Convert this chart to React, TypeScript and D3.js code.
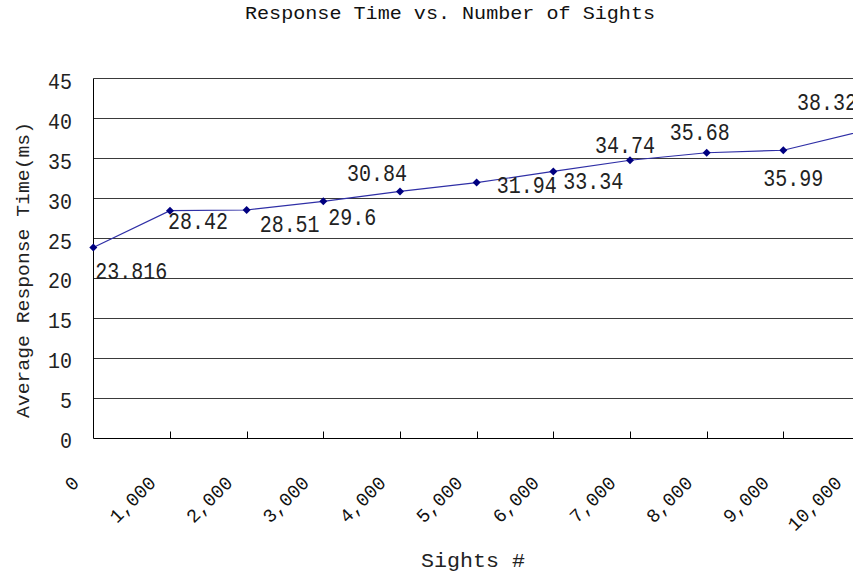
import React from "react";
import * as d3 from "d3";

const sights = [0, 1000, 2000, 3000, 4000, 5000, 6000, 7000, 8000, 9000, 10000];
const responseTimes = [23.816, 28.42, 28.51, 29.6, 30.84, 31.94, 33.34, 34.74, 35.68, 35.99, 38.32];
const valueLabels = ["23.816", "28.42", "28.51", "29.6", "30.84", "31.94", "33.34", "34.74", "35.68", "35.99", "38.32"];
const yTicks = [0, 5, 10, 15, 20, 25, 30, 35, 40, 45];
const xTickLabels = ["0", "1,000", "2,000", "3,000", "4,000", "5,000", "6,000", "7,000", "8,000", "9,000", "10,000"];
const title = "Response Time vs. Number of Sights";
const xTitle = "Sights #";
const yTitle = "Average Response Time(ms)";

// label placement offsets relative to each point (layout, not data)
const labelOffsets: [number, number][] = [
  [2, 32], [-2, 18], [13, 22], [5, 24], [-53, -10], [20, 10],
  [10, 18], [-35, -7], [-37, -13], [-20, 36], [-63, -22],
];

const W = 853;
const H = 578;
const FONT = "'Liberation Mono', 'DejaVu Sans Mono', monospace";

export default function App() {
  const x = d3.scaleLinear().domain([0, 10000]).range([93.3, 860]);
  const y = d3.scaleLinear().domain([0, 45]).range([437.7, 78.3]);
  const snap = (v: number) => Math.round(v) + 0.5;

  const pts = sights.map((s, i) => [x(s), y(responseTimes[i])] as [number, number]);
  const line = d3.line<[number, number]>().x((d) => d[0]).y((d) => d[1]);
  const x0 = snap(x(0));

  return (
    <svg width={W} height={H} style={{ position: "absolute", left: 0, top: 0, background: "#fff" }}>
      <text x={450} y={19} fontFamily={FONT} fontSize={18} textAnchor="middle" textLength={410} lengthAdjust="spacingAndGlyphs" fill="#111">
        {title}
      </text>

      {/* gridlines */}
      {yTicks.map((t) => (
        <line key={"g" + t} x1={x0} x2={W} y1={snap(y(t))} y2={snap(y(t))} stroke={t === 0 ? "#000" : "#3a3a3a"} strokeWidth={1} />
      ))}
      {/* y axis */}
      <line x1={x0} x2={x0} y1={snap(y(45))} y2={snap(y(0))} stroke="#000" strokeWidth={1} />
      {/* x ticks (inside) */}
      {sights.slice(1).map((s) => (
        <line key={"t" + s} x1={snap(x(s))} x2={snap(x(s))} y1={snap(y(0)) - 7} y2={snap(y(0))} stroke="#000" strokeWidth={1} />
      ))}

      {/* y tick labels */}
      {yTicks.map((t) => (
        <text key={"yl" + t} x={72} y={y(t) + 10.5} fontFamily={FONT} fontSize={22} textAnchor="end"
          textLength={String(t).length * 12} lengthAdjust="spacingAndGlyphs" fill="#222">
          {t}
        </text>
      ))}

      {/* x tick labels */}
      {sights.map((s, i) => {
        const ex = Math.min(x(s) - 13, W - 10);
        const ey = 484;
        return (
          <text key={"xl" + s} transform={`translate(${ex},${ey}) rotate(-45)`} fontFamily={FONT} fontSize={19}
            textAnchor="end" textLength={xTickLabels[i].length * 11.3} lengthAdjust="spacingAndGlyphs" fill="#111">
            {xTickLabels[i]}
          </text>
        );
      })}

      {/* series line */}
      <path d={line(pts) || ""} fill="none" stroke="#2f2fa6" strokeWidth={1.2} />
      {pts.map(([px, py], i) => (
        <path key={"m" + i} d={`M${px},${py - 4}L${px + 4},${py}L${px},${py + 4}L${px - 4},${py}Z`} fill="#000080" />
      ))}

      {/* data labels */}
      {pts.map(([px, py], i) => (
        <text key={"dl" + i} x={px + labelOffsets[i][0]} y={py + labelOffsets[i][1]} fontFamily={FONT} fontSize={23}
          textLength={valueLabels[i].length * 12} lengthAdjust="spacingAndGlyphs" fill="#222">
          {valueLabels[i]}
        </text>
      ))}

      {/* axis titles */}
      <text x={473} y={567} fontFamily={FONT} fontSize={21} textAnchor="middle" textLength={104} lengthAdjust="spacingAndGlyphs" fill="#222">
        {xTitle}
      </text>
      <text transform={`translate(29,270) rotate(-90)`} fontFamily={FONT} fontSize={19} textAnchor="middle" textLength={296} lengthAdjust="spacingAndGlyphs" fill="#222">
        {yTitle}
      </text>
    </svg>
  );
}
